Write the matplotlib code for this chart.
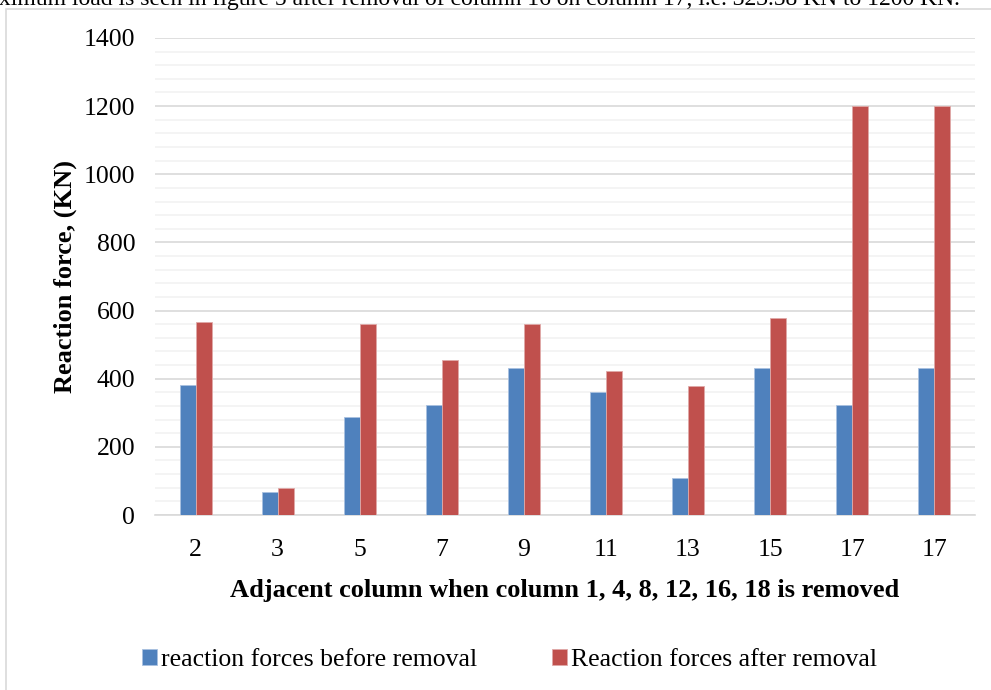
import matplotlib.pyplot as plt
import numpy as np
from matplotlib.patches import Rectangle

plt.rcParams['font.family'] = ['Liberation Serif', 'DejaVu Serif']

# data
columns = ['2', '3', '5', '7', '9', '11', '13', '15', '17', '17']
before = [382, 68, 288, 322, 430, 360, 108, 430, 323.58, 430]
after = [565, 78, 560, 454, 562, 424, 380, 578, 1200, 1200]

fig = plt.figure(figsize=(9.91, 6.90), dpi=100)
ax = fig.add_axes([0.156, 0.2536, 0.828, 0.6914])

x = np.arange(len(columns))
w = 0.195
ax.bar(x - w / 2, before, w, color='#4f81bd', edgecolor='#a9c1e0', linewidth=0.6,
       label='reaction forces before removal', zorder=3)
ax.bar(x + w / 2, after, w, color='#c0504d', edgecolor='#e0a9a8', linewidth=0.6,
       label='Reaction forces after removal', zorder=3)

ax.set_ylim(0, 1400)
ax.set_xlim(-0.5, len(columns) - 0.5)
ax.set_yticks(np.arange(0, 1401, 200))
ax.set_yticks(np.arange(0, 1401, 40), minor=True)
ax.set_xticks(x)
ax.set_xticklabels(columns)
ax.grid(axis='y', which='major', color='#d9d9d9', linewidth=1.2, zorder=0)
ax.grid(axis='y', which='minor', color='#f2f2f2', linewidth=1.2, zorder=0)
ax.tick_params(axis='both', which='both', length=0, labelsize=18.5)
ax.tick_params(axis='x', pad=17)
ax.tick_params(axis='y', pad=14)
for s in ['top', 'right', 'left']:
    ax.spines[s].set_visible(False)
ax.spines['bottom'].set_color('#d9d9d9')
ax.spines['bottom'].set_linewidth(1.2)

ax.set_ylabel('Reaction force, (KN)', fontsize=19, fontweight='bold', labelpad=5)
ax.set_xlabel('Adjacent column when column 1, 4, 8, 12, 16, 18 is removed',
              fontsize=19, fontweight='bold', labelpad=13)

fig.legend(loc='center', bbox_to_anchor=(0.514, 0.044), ncol=2, frameon=False,
           fontsize=18.5, handlelength=0.6, handleheight=0.6, handletextpad=0.15,
           columnspacing=2.9)

# chart frame
fig.patches.append(Rectangle((6 / 991, -0.05), 1.1, 1 - 9 / 690 + 0.05,
                             transform=fig.transFigure, fill=False,
                             edgecolor='#d9d9d9', linewidth=1.2))

# clipped text from the page above the chart
fig.text(-0.03, 1.0, 'maximum load is seen in figure 5 after removal of column 16 on column 17, '
         'i.e. 323.58 KN to 1200 KN.', fontsize=17, va='center', ha='left')

fig.savefig('out.png', dpi=100)
